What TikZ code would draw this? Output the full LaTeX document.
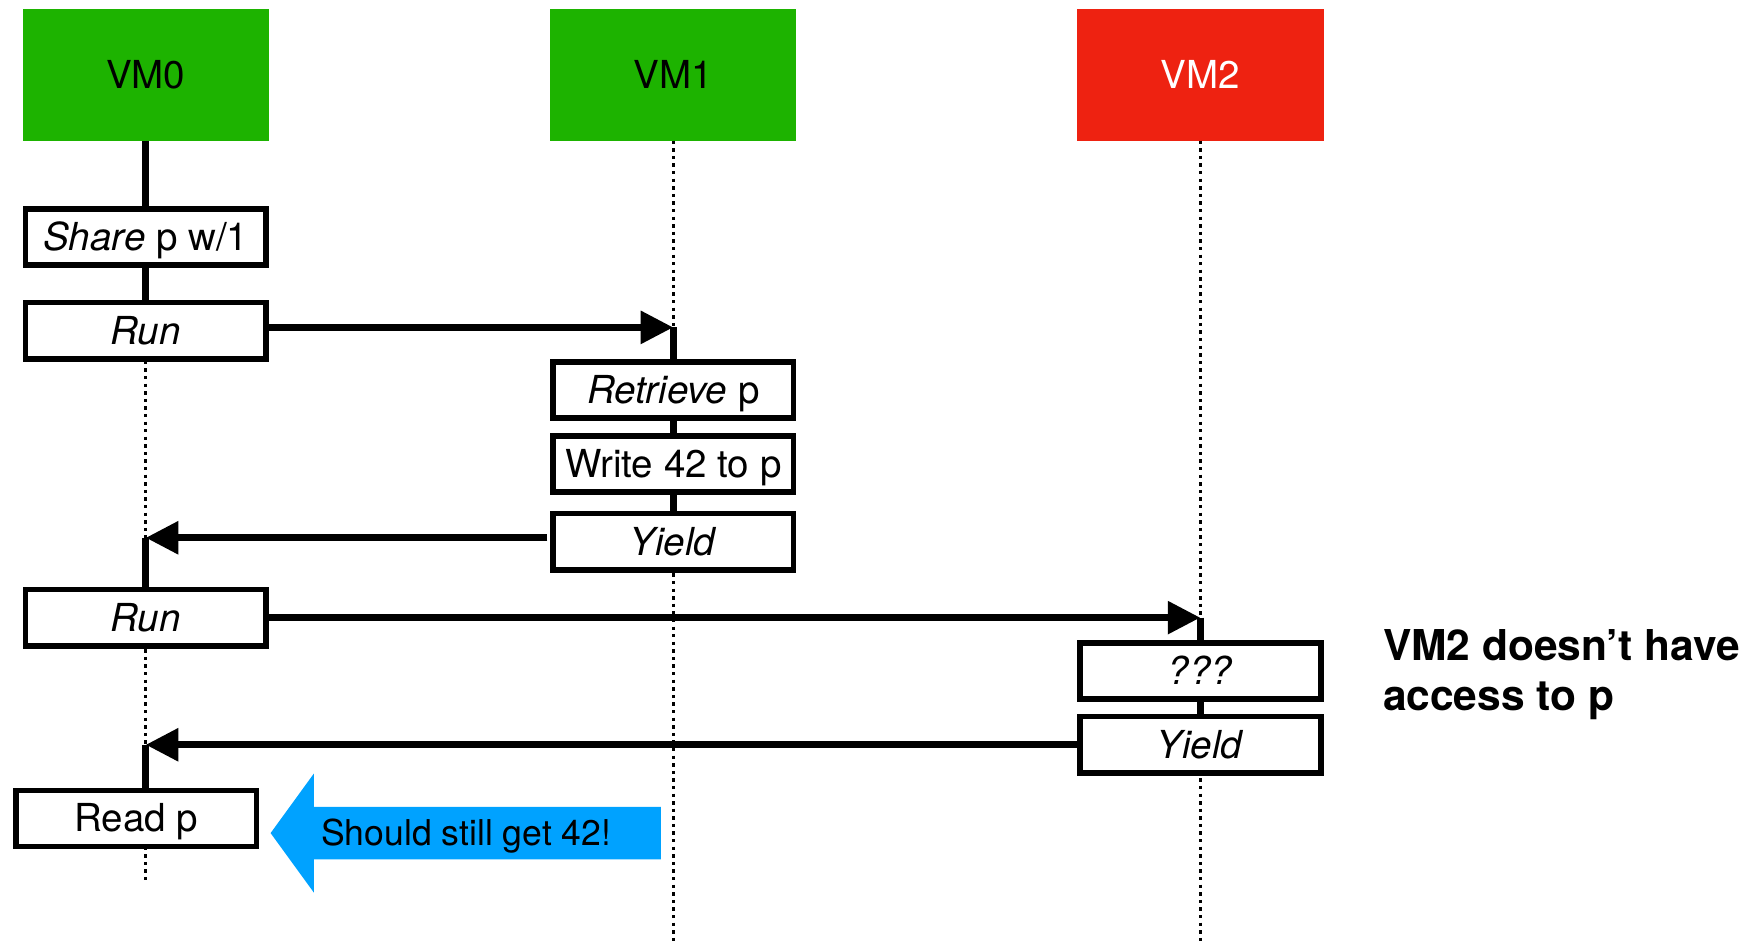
\documentclass[tikz,border=0pt]{standalone}
\usepackage{fontspec}
\setmainfont{TeX Gyre Heros}
\usepackage{xcolor}
\usepackage{tikz}
\usetikzlibrary{arrows.meta,positioning,calc,shapes.arrows}
\definecolor{vmgreen}{HTML}{1DB300}
\definecolor{vmred}{HTML}{EE2211}
\definecolor{hintblue}{HTML}{00A2FF}

\begin{document}
\begin{tikzpicture}[
    x=0.02cm,y=-0.02cm,
    vmh/.style    = {minimum width=4.38cm, minimum height=2.34cm,
                     inner sep=0pt, outer sep=0pt,
                     font=\fontsize{19.5}{22}\selectfont},
    act/.style    = {draw, line width=0.1cm, fill=white,
                     minimum width=4.28cm, minimum height=1.0cm,
                     inner sep=0pt, outer sep=0pt,
                     text height=0.48cm, text depth=0pt,
                     font=\fontsize{19.5}{22}\selectfont},
    life/.style   = {line width=0.055cm, dash pattern=on 0.06cm off 0.075cm},
    alive/.style  = {line width=0.12cm},
    msg/.style    = {-{Triangle[length=0.58cm,width=0.56cm]}, line width=0.13cm},
    hint/.style   = {single arrow, shape border rotate=180, fill=hintblue,
                     minimum height=6.94cm, single arrow head extend=0.59cm,
                     single arrow tip angle=108, inner xsep=0pt, inner ysep=0.235cm,
                     text height=0.45cm, text depth=0pt,
                     font=\fontsize{18}{22}\selectfont},
    note/.style   = {font=\fontsize{21.5}{25.6}\selectfont\bfseries,
                     align=left, anchor=west, inner sep=0pt},
  ]
  \useasboundingbox (0,0) rectangle (1568,840);

  % ── Machines ────────────────────────────────────────────────────────────
  \node[vmh,fill=vmgreen]            (vm0) at (129.5,66.5) {VM0};
  \node[vmh,fill=vmgreen]            (vm1) at (598.5,66.5) {VM1};
  \node[vmh,fill=vmred,text=white]   (vm2) at (1067,66.5)  {VM2};

  % ── Lignes de vie (pointillés) ──────────────────────────────────────────
  \coordinate (end0) at (129.5,785);
  \coordinate (end1) at (598.5,840);
  \coordinate (end2) at (1067,840);
  \draw[life] (vm0.south) -- (end0);
  \draw[life] (vm1.south) -- (end1);
  \draw[life] (vm2.south) -- (end2);

  % ── Activités ───────────────────────────────────────────────────────────
  \node[act] (share)  at (129.5,210.5) {\textit{Share} p w/1};
  \node[act] (run1)   at (129.5,294)   {\textit{Run}};
  \node[act] (retr)   at (598.5,346.5) {\textit{Retrieve} p};
  \node[act] (write)  at (598.5,412.5) {Write 42 to p};
  \node[act] (yield1) at (598.5,481.5) {\textit{Yield}};
  \node[act] (run2)   at (129.5,549)   {\textit{Run}};
  \node[act] (qqq)    at (1067,596.5)  {\textit{???}};
  \node[act] (yield2) at (1067,662)    {\textit{Yield}};
  \node[act] (read)   at (121,727.5)   {Read p};

  % ── VM0 -> VM1 -> VM0 ───────────────────────────────────────────────────
  \draw[alive] (vm0.south) -- (share.north);
  \draw[alive] (share.south) -- (run1.north);
  \coordinate (in1) at ([yshift=0.06cm]run1.east -| vm1.south);
  \draw[msg] (run1.east |- in1) -- (in1);
  \draw[alive] (in1) -- (retr.north);
  \draw[alive] (retr.south) -- (write.north);
  \draw[alive] (write.south) -- (yield1.north);
  \coordinate (back0) at ([yshift=0.07cm]yield1.west -| vm0.south);
  \draw[msg] ([xshift=-0.1cm]yield1.west |- back0) -- (back0);
  \draw[alive] (back0) -- (run2.north);

  % ── VM0 -> VM2 -> VM0 ───────────────────────────────────────────────────
  \coordinate (in2) at (run2.east -| vm2.south);
  \draw[msg] (run2.east) -- (in2);
  \draw[alive] (in2) -- (qqq.north);
  \draw[alive] (qqq.south) -- (yield2.north);
  \coordinate (back1) at (yield2.west -| vm0.south);
  \draw[msg] (yield2.west) -- (back1);
  \draw[alive] (back1) -- (back1 |- read.north);

  % ── Remarques ───────────────────────────────────────────────────────────
  \node[hint] (still) at (422.5,740.5) {Should still get 42!\hspace*{0.32cm}};
  \node[note] (lack) at (1229,599.5) {VM2 doesn’t have\\access to p};

\end{tikzpicture}
\end{document}
